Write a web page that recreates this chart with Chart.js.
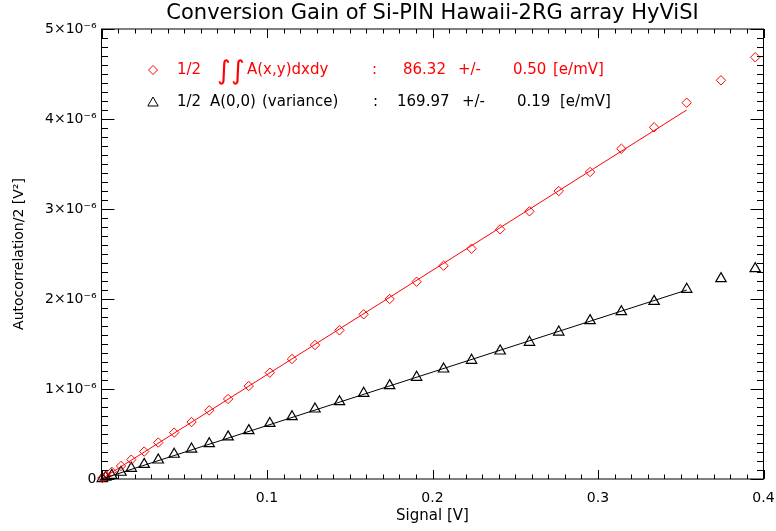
<!DOCTYPE html>
<html>
<head>
<meta charset="utf-8">
<script src="https://cdn.jsdelivr.net/npm/chart.js@4/dist/chart.umd.min.js"></script>
<style>
  body { margin: 0; background: #fff; }
</style>
</head>
<body>
<canvas id="gain" width="776" height="531"></canvas>
<script>
// signal level of each ramp point [V]
const signal = [0.0005, 0.0025, 0.0062, 0.0118, 0.0180, 0.0258, 0.0343, 0.0439, 0.0544, 0.0651,
  0.0765, 0.0890, 0.1017, 0.1151, 0.1290, 0.1438, 0.1584, 0.1741, 0.1904, 0.2067,
  0.2236, 0.2409, 0.2586, 0.2763, 0.2952, 0.3141, 0.3339, 0.3536, 0.3743, 0.3950];
// autocorrelation/2 in units of 1e-6 V^2
const integralHalf = [0.01, 0.03, 0.08, 0.145, 0.215, 0.305, 0.405, 0.515, 0.633, 0.763,
  0.889, 1.033, 1.181, 1.333, 1.489, 1.652, 1.830, 2.000, 2.192, 2.370,
  2.559, 2.774, 2.974, 3.200, 3.411, 3.670, 3.908, 4.181, 4.430, 4.686];
const varianceHalf = [0.005, 0.02, 0.04, 0.075, 0.119, 0.163, 0.211, 0.275, 0.333, 0.392,
  0.468, 0.537, 0.617, 0.692, 0.778, 0.859, 0.952, 1.037, 1.130, 1.222,
  1.319, 1.422, 1.519, 1.633, 1.76, 1.859, 1.974, 2.108, 2.226, 2.337];
// linear fits, drawn up to the last fitted point
const fitX = [0, 0.3536];
const fitIntegral = [0, 4.10];
const fitVariance = [0, 2.10];
// conversion gains [e/mV]
const gains = ['86.32', '169.97'];
const gainErrors = ['0.50', '0.19'];

const xTicks = [0, 0.1, 0.2, 0.3, 0.4];
const yTicks = [0, 1, 2, 3, 4, 5];

const FONT = 'DejaVu Sans';
const RED = '#ff0000';

function pts(xs, ys) {
  return xs.map((v, i) => ({ x: v, y: ys[i] }));
}

function diamond(ctx, cx, cy, r) {
  ctx.beginPath();
  ctx.moveTo(cx - r, cy);
  ctx.lineTo(cx, cy - r);
  ctx.lineTo(cx + r, cy);
  ctx.lineTo(cx, cy + r);
  ctx.closePath();
  ctx.stroke();
}

function triangle(ctx, cx, cy, r) {
  ctx.beginPath();
  ctx.moveTo(cx, cy - r);
  ctx.lineTo(cx + r * 0.866, cy + r / 2);
  ctx.lineTo(cx - r * 0.866, cy + r / 2);
  ctx.closePath();
  ctx.stroke();
}

// box, inward ticks on all four sides, title and the fit legend
const frame = {
  id: 'frame',
  afterDraw(chart) {
    const { ctx, chartArea: a, scales: { x, y } } = chart;
    ctx.save();
    ctx.strokeStyle = '#000';
    ctx.lineWidth = 1;
    ctx.strokeRect(a.left, a.top, a.right - a.left, a.bottom - a.top);

    ctx.beginPath();
    const nx = Math.round(x.max / 0.01);
    for (let i = 0; i <= nx; i++) {
      const px = Math.round(x.getPixelForValue(i * 0.01)) + 0.5;
      const len = i % 10 === 0 ? 9 : 4.5;
      ctx.moveTo(px, a.bottom); ctx.lineTo(px, a.bottom - len);
      ctx.moveTo(px, a.top); ctx.lineTo(px, a.top + len);
    }
    const ny = Math.round(y.max / 0.1);
    for (let i = 0; i <= ny; i++) {
      const py = Math.round(y.getPixelForValue(i * 0.1)) + 0.5;
      const len = i % 10 === 0 ? 13 : 6.5;
      ctx.moveTo(a.left, py); ctx.lineTo(a.left + len, py);
      ctx.moveTo(a.right, py); ctx.lineTo(a.right - len, py);
    }
    ctx.stroke();

    // title
    ctx.fillStyle = '#000';
    ctx.font = '21px "' + FONT + '"';
    ctx.textAlign = 'center';
    ctx.textBaseline = 'alphabetic';
    ctx.fillText('Conversion Gain of Si-PIN Hawaii-2RG array HyViSI', (a.left + a.right) / 2, 19);

    // legend
    ctx.textAlign = 'left';
    ctx.textBaseline = 'middle';
    ctx.font = '15px "' + FONT + '"';
    ctx.fillStyle = RED;
    ctx.strokeStyle = RED;
    diamond(ctx, 153, 70, 4.5);
    ctx.fillText('1/2', 177, 70);
    ctx.save();
    ctx.font = '26px "' + FONT + '"';
    ctx.fillText('\u222B', 217, 72);
    ctx.fillText('\u222B', 231, 72);
    ctx.restore();
    ctx.fillText('A(x,y)dxdy', 247, 70);
    ctx.fillText(':', 372, 70);
    ctx.fillText(gains[0], 403, 70);
    ctx.fillText('+/-', 458, 70);
    ctx.fillText(gainErrors[0], 513, 70);
    ctx.fillText('[e/mV]', 553, 70);

    ctx.fillStyle = '#000';
    ctx.strokeStyle = '#000';
    triangle(ctx, 153, 103, 6);
    ctx.fillText('1/2', 177, 102);
    ctx.fillText('A(0,0)', 210, 102);
    ctx.fillText('(variance)', 262, 102);
    ctx.fillText(':', 373, 102);
    ctx.fillText(gains[1], 397, 102);
    ctx.fillText('+/-', 462, 102);
    ctx.fillText(gainErrors[1], 517, 102);
    ctx.fillText('[e/mV]', 560, 102);
    ctx.restore();
  }
};

Chart.defaults.color = '#000';
Chart.defaults.font.family = FONT;

new Chart(document.getElementById('gain'), {
  type: 'scatter',
  data: {
    datasets: [
      { data: pts(fitX, fitIntegral), showLine: true, borderColor: RED, borderWidth: 1, pointRadius: 0 },
      { data: pts(fitX, fitVariance), showLine: true, borderColor: '#000', borderWidth: 1, pointRadius: 0 },
      { data: pts(signal, integralHalf), pointStyle: 'rectRot', pointRadius: 4.7, borderColor: RED,
        backgroundColor: 'rgba(0,0,0,0)', borderWidth: 1, clip: false },
      { data: pts(signal, varianceHalf), pointStyle: 'triangle', pointRadius: 6, borderColor: '#000',
        backgroundColor: 'rgba(0,0,0,0)', borderWidth: 1.2, clip: false }
    ]
  },
  options: {
    responsive: false,
    animation: false,
    devicePixelRatio: 1,
    events: [],
    layout: { padding: { top: 29, right: 12.5, left: 0, bottom: 0 } },
    plugins: { legend: { display: false }, tooltip: { enabled: false } },
    scales: {
      x: {
        type: 'linear', min: 0, max: 0.4,
        afterBuildTicks: s => { s.ticks = xTicks.map(v => ({ value: v })); },
        grid: { display: false, drawTicks: false },
        border: { display: false },
        ticks: { padding: 11, maxRotation: 0, font: { size: 14 },
          callback: v => v === 0 ? '' : v.toFixed(1) },
        title: { display: true, text: 'Signal [V]', font: { size: 15 }, padding: { top: 0, bottom: 6 } },
        afterFit: s => { s.height = 52; s.paddingLeft = 0; s.paddingRight = 0; }
      },
      y: {
        type: 'linear', min: 0, max: 5,
        afterBuildTicks: s => { s.ticks = yTicks.map(v => ({ value: v })); },
        grid: { display: false, drawTicks: false },
        border: { display: false },
        ticks: { padding: 5, font: { size: 14 },
          callback: v => v === 0 ? '0' : v + '\u00D710\u207B\u2076' },
        title: { display: true, text: 'Autocorrelation/2 [V\u00B2]', font: { size: 14 }, padding: { top: 11, bottom: 0 } },
        afterFit: s => { s.width = 101.5; s.paddingTop = 0; s.paddingBottom = 0; }
      }
    }
  },
  plugins: [frame]
});
</script>
</body>
</html>
